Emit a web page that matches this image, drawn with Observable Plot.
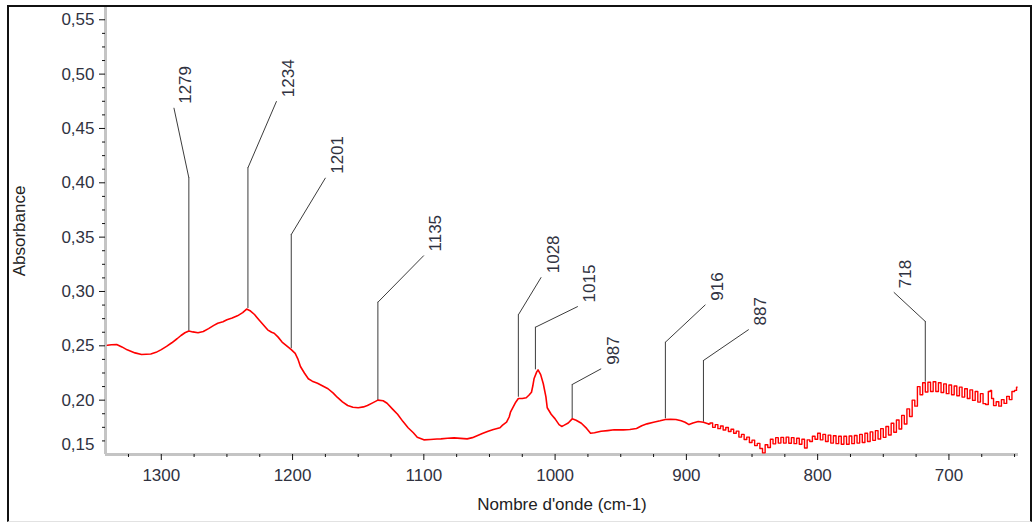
<!DOCTYPE html>
<html>
<head>
<meta charset="utf-8">
<script src="https://cdn.jsdelivr.net/npm/d3@7"></script>
<script src="https://cdn.jsdelivr.net/npm/@observablehq/plot@0.6"></script>
<style>
  html, body { margin: 0; padding: 0; background: #fff; }
  #wrap { position: relative; width: 1032px; height: 524px; overflow: hidden; }
  #wrap svg { display: block; }
  #frame { position: absolute; left: 7px; top: 5px; width: 1021px; height: 514px;
           border-left: 2px solid #111; border-top: 2px solid #111; border-right: 2px solid #111;
           border-bottom: 1px solid #e2e2e2; pointer-events: none; }
</style>
</head>
<body>
<div id="wrap"><div id="frame"></div></div>
<script>
// ---- data ----
// [wavenumber (cm-1), absorbance]
const spectrum = [
  [1341,0.2505],[1338,0.2510],[1334,0.2512],[1330,0.2490],[1326,0.2463],[1320,0.2435],[1315,0.2420],
  [1308,0.2425],[1304,0.2440],[1300,0.2465],[1296,0.2495],[1292,0.2528],[1288,0.2565],[1285,0.2595],
  [1282,0.2620],[1279,0.2637],[1276,0.2628],[1272,0.2620],[1268,0.2632],[1264,0.2658],[1260,0.2688],
  [1257,0.2708],[1253,0.2722],[1250,0.2740],[1246,0.2755],[1242,0.2776],[1238,0.2805],[1235,0.2838],
  [1232,0.2820],[1229,0.2788],[1226,0.2745],[1224,0.2717],[1221,0.2675],[1219,0.2647],[1216,0.2625],
  [1214,0.2616],[1211,0.2580],[1208,0.2535],[1204,0.2495],[1201,0.2465],[1198,0.2430],[1196,0.2380],
  [1194,0.2310],[1191,0.2250],[1188,0.2197],[1185,0.2175],[1181,0.2156],[1177,0.2130],[1173,0.2105],
  [1169,0.2065],[1166,0.2027],[1162,0.1985],[1158,0.1951],[1154,0.1935],[1150,0.1930],[1146,0.1938],
  [1143,0.1951],[1139,0.1975],[1135,0.2000],[1131,0.1995],[1128,0.1972],[1124,0.1920],[1120,0.1870],
  [1116,0.1805],[1112,0.1746],[1108,0.1700],[1105,0.1659],[1100,0.1635],[1095,0.1638],[1090,0.1642],
  [1087,0.1644],[1082,0.1650],[1077,0.1653],[1072,0.1648],[1067,0.1644],[1063,0.1655],[1059,0.1675],
  [1055,0.1695],[1051,0.1714],[1047,0.1730],[1042,0.1746],[1040,0.1770],[1037,0.1797],[1035,0.1845],
  [1034,0.1889],[1032,0.1935],[1030,0.1981],[1028,0.2015],[1025,0.2015],[1022,0.2022],[1020,0.2045],
  [1018,0.2073],[1017,0.2130],[1016,0.2200],[1014,0.2260],[1013,0.2278],[1011,0.2235],[1009,0.2151],
  [1007,0.2030],[1006,0.1930],[1003,0.1870],[1000,0.1828],[997,0.1775],[995,0.1758],[993,0.1770],
  [990,0.1790],[987,0.1828],[984,0.1815],[980,0.1788],[976,0.1740],[973,0.1696],[970,0.1700],
  [965,0.1714],[960,0.1720],[955,0.1727],[948,0.1727],[943,0.1730],[938,0.1740],[934,0.1765],
  [930,0.1782],[925,0.1797],[920,0.1810],[916,0.1822],[912,0.1825],[908,0.1822],[904,0.1810],
  [901,0.1797],[898,0.1775],[895,0.1790],[891,0.1804],[887,0.1797],[883,0.1780],
  [881,0.1790],[879,0.1750],[877,0.1775],[875,0.1738],[873,0.1762],[871,0.1725],[869,0.1748],
  [867,0.1712],[865,0.1732],[863,0.1695],[861,0.1715],[859,0.1660],[857,0.1685],[855,0.1638],
  [853,0.1660],[851,0.1610],[849,0.1632],[847,0.1582],[845,0.1602],[843,0.1555],[841,0.1515],
  [839,0.1590],[837,0.1565],[835,0.1640],[833,0.1598],[831,0.1655],[829,0.1605],[827,0.1658],
  [825,0.1605],[823,0.1660],[821,0.1603],[819,0.1655],[817,0.1600],[815,0.1650],[813,0.1595],
  [811,0.1640],[809,0.1560],[807,0.1635],[805,0.1620],[803,0.1668],[801,0.1640],[799,0.1695],
  [797,0.1635],[795,0.1685],[793,0.1620],[791,0.1678],[789,0.1605],[787,0.1672],[785,0.1600],
  [783,0.1668],[781,0.1595],[779,0.1668],[777,0.1595],[775,0.1670],[773,0.1600],[771,0.1675],
  [769,0.1605],[767,0.1685],[765,0.1610],[763,0.1695],[761,0.1620],[759,0.1708],[757,0.1630],
  [755,0.1720],[753,0.1642],[751,0.1738],[749,0.1658],[747,0.1758],[745,0.1680],[743,0.1788],
  [741,0.1705],[739,0.1818],[737,0.1735],[735,0.1860],[733,0.1780],[731,0.1920],[729,0.1850],
  [727,0.2000],[725,0.1945],[723,0.2125],[721,0.2050],[719,0.2160],[717,0.2075],[715,0.2165],
  [713,0.2080],[711,0.2170],[709,0.2080],[707,0.2160],[705,0.2070],[703,0.2150],[701,0.2060],
  [699,0.2140],[697,0.2050],[695,0.2130],[693,0.2040],[691,0.2120],[689,0.2028],[687,0.2105],
  [685,0.2015],[683,0.2095],[681,0.1998],[679,0.2080],[677,0.1982],[675,0.2060],[673,0.1968],
  [671,0.1960],[669,0.2080],[668,0.2090],[667,0.2015],[665,0.1950],[663,0.1985],[661,0.1945],
  [659,0.2005],[657,0.1970],[655,0.2035],[653,0.2005],[651,0.2080],[649,0.2090],[648,0.2120]
];
// below this wavenumber the recorded trace is the coarse, noisy part
const noisyFrom = 883;

// peak annotations
const peakWn    = [1279, 1234, 1201, 1135, 1028, 1015, 987, 916, 887, 718];
const peakAbs   = [0.2635, 0.2843, 0.2473, 0.1997, 0.2027, 0.2279, 0.1828, 0.1828, 0.1797, 0.2165];
const elbowAbs  = [0.4046, 0.4138, 0.3524, 0.2901, 0.2785, 0.2671, 0.2144, 0.2533, 0.2365, 0.2724];
const labelWn   = [1290.4, 1212.2, 1174.9, 1100.0, 1010.6, 982.7, 964.9, 885.5, 852.5, 742.0];
const labelAbs  = [0.4690, 0.4751, 0.4046, 0.3331, 0.3131, 0.2862, 0.2289, 0.2878, 0.2650, 0.2993];

// axes
const xDomain = [1342.5, 647];
const yDomain = [0.15, 0.5613];
const xMajor = [1300, 1200, 1100, 1000, 900, 800, 700];
const xMinor = [1325, 1275, 1250, 1225, 1175, 1150, 1125, 1075, 1050, 1025, 975, 950, 925, 875, 850, 825, 775, 750, 725, 675, 650];
const yMajor = [0.20, 0.25, 0.30, 0.35, 0.40, 0.45, 0.50, 0.55];
const yBottom = [0.15];
const yMinor = [0.1625, 0.175, 0.1875, 0.2125, 0.225, 0.2375, 0.2625, 0.275, 0.2875, 0.3125, 0.325, 0.3375,
  0.3625, 0.375, 0.3875, 0.4125, 0.425, 0.4375, 0.4625, 0.475, 0.4875, 0.5125, 0.525, 0.5375];
const xTitle = "Nombre d'onde (cm-1)";
const yTitle = "Absorbance";

// ---- build ----
const line = spectrum.map(([w, a]) => ({w, a}));
const peaks = peakWn.map((w, i) => ({w, a: peakAbs[i], e: elbowAbs[i], lw: labelWn[i], la: labelAbs[i]}));
const fmt = d => d3.format(".2f")(d).replace(".", ",");
const FONT = "'Liberation Sans', Arial, sans-serif";
const TXT = "#30323f";

const chart = Plot.plot({
  width: 1032,
  height: 524,
  marginLeft: 105,
  marginRight: 14,
  marginTop: 7,
  marginBottom: 70,
  style: {fontFamily: FONT, background: "transparent"},
  x: {domain: xDomain},
  y: {domain: yDomain},
  marks: [
    // axis bands
    Plot.ruleX([xDomain[0]], {stroke: "#c4c4c4", strokeWidth: 3}),
    Plot.ruleY([yDomain[0]], {stroke: "#c4c4c4", strokeWidth: 3}),
    // y axis
    Plot.axisY(yMajor, {anchor: "left", tickSize: 6, tickPadding: 5, tickFormat: fmt, fontSize: 17, color: TXT, stroke: "#111", label: null}),
    Plot.axisY(yMinor, {anchor: "left", tickSize: 3, tickFormat: () => "", stroke: "#111", label: null}),
    Plot.text(yBottom, {x: () => xDomain[0], y: d => d, text: fmt, dx: -11, dy: -10, textAnchor: "end", fontSize: 17, fill: TXT}),
    // x axis
    Plot.axisX(xMajor, {anchor: "bottom", tickSize: 6, tickPadding: 8, tickFormat: d => String(d), fontSize: 17, color: TXT, stroke: "#111", label: null}),
    Plot.axisX(xMinor, {anchor: "bottom", tickSize: 3, tickFormat: () => "", stroke: "#111", label: null}),
    // titles
    Plot.text([yTitle], {frameAnchor: "left", rotate: -90, dx: -86, fontSize: 17, fill: "#222", textAnchor: "middle", lineAnchor: "middle"}),
    Plot.text([xTitle], {frameAnchor: "bottom", dy: 50, fontSize: 17, fill: "#222", textAnchor: "middle", lineAnchor: "middle"}),
    // peak leaders
    Plot.ruleX(peaks, {x: "w", y1: "a", y2: "e", stroke: "#3c3c3c", strokeWidth: 1}),
    Plot.link(peaks, {x1: "w", y1: "e", x2: "lw", y2: "la", stroke: "#3c3c3c", strokeWidth: 1}),
    Plot.text(peaks, {x: "lw", y: "la", text: d => String(d.w), rotate: -90, textAnchor: "start", lineAnchor: "middle", dx: 12, dy: -4, fontSize: 17, fill: TXT}),
    // spectrum
    Plot.line(line, {filter: d => d.w >= noisyFrom, x: "w", y: "a", stroke: "#ff0000", strokeWidth: 1.6}),
    Plot.line(line, {filter: d => d.w <= noisyFrom, x: "w", y: "a", stroke: "#ff0000", strokeWidth: 1.4, curve: "step"})
  ]
});
document.getElementById("wrap").prepend(chart);
</script>
</body>
</html>
